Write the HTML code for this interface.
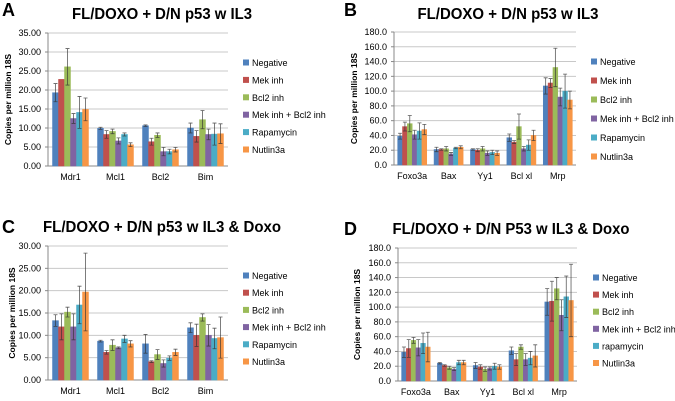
<!DOCTYPE html>
<html><head><meta charset="utf-8"><style>
body{margin:0;background:#fff;width:675px;height:401px;overflow:hidden;font-family:"Liberation Sans",sans-serif}
svg{position:absolute;left:0;top:0}
</style></head><body>
<svg id="fig" width="675" height="401"></svg>
<script>
const seriesNames=["Negative","Mek inh","Bcl2 inh","Mek inh + Bcl2 inh","Rapamycin","Nutlin3a"];
const seriesNamesD=["Negative","Mek inh","Bcl2 inh","Mek inh + Bcl2 inh","rapamycin","Nutlin3a"];
const colors=["#4f81bd","#c0504d","#9bbb59","#8064a2","#4bacc6","#f79646"];
const catsAC=["Mdr1","Mcl1","Bcl2","Bim"];
const catsBD=["Foxo3a","Bax","Yy1","Bcl xl","Mrp"];
const ticksA=[0,5,10,15,20,25,30,35];
const ticksC=[0,5,10,15,20,25,30];
const ticksBD=[0,20,40,60,80,100,120,140,160,180];
const valsA=[[19.3,22.8,26.1,12.5,14.1,14.9],[9.9,8.3,9.1,6.6,8.3,5.6],[10.6,6.4,8.1,3.8,3.8,4.3],[10,7.8,12.2,8.3,8.4,8.5]];
const errA=[[2.4,0,4.8,1.3,4.2,3],[0.3,1,0.6,0.8,0.4,0.5],[0.2,0.9,0.6,1.1,0.6,0.6],[1.3,1.5,2.4,1.4,2.9,2.6]];
const valsB=[[39,52,56,41,46,48],[21,21,22,15,23,24],[21,20,22,16,17,16],[37,31,52,22,27,40],[107,111,132,92,100,88]];
const errB=[[4,6,11,6,11,7],[3,1,3,2,1,2],[1,2,3,3,3,3],[5,2,17,3,7,7],[11,6,26,12,23,12]];
const valsC=[[13.3,11.9,15.2,11.9,16.8,19.7],[8.7,6.2,7.8,7.2,9.2,8.1],[8.1,4.1,5.7,3.7,4.9,6.2],[11.7,10,14,10,9.3,9.5]];
const errC=[[1.3,2.9,1.1,2.9,4.2,8.7],[0.2,0.4,1.2,0.2,0.8,0.7],[2.1,0.2,1.1,0.8,0.5,0.7],[1.1,2.5,0.8,2.4,2.3,4.6]];
const valsD=[[39,44,55,45,51,46],[24,21,18,16,25,25],[21,19,16,17,20,19],[41,29,46,29,31,34],[107,108,125,89,114,109]];
const errD=[[7,12,4,11,14,20],[1,1,2,2,3,3],[4,3,3,2,4,3],[5,8,3,8,9,15],[18,27,15,21,28,49]];

const NS="http://www.w3.org/2000/svg";
const svg=document.getElementById('fig');
function mk(tag,attrs,parent,txt){const e=document.createElementNS(NS,tag);for(const k in attrs)e.setAttribute(k,attrs[k]);if(txt!==undefined)e.textContent=txt;(parent||svg).appendChild(e);return e;}

function panel(p){
  const g=mk('g',{});
  
  
  const ymax=p.ticks[p.ticks.length-1];
  const y=v=>p.y0-(v/ymax)*(p.y0-p.yTop);
  const catW=(p.xR-p.xL)/p.cats.length;
  const bw=catW*0.8/6;
  const lt=mk('text',{x:p.lx,y:p.ly,'font-size':18,'font-weight':'bold',fill:'#000'},g,p.letter);
  
  
  const tt=mk('text',{x:p.tx-p.tw/2,y:p.ty,'font-size':16,'font-weight':'bold',textLength:p.tw,lengthAdjust:'spacingAndGlyphs',fill:'#000'},g,p.title);
  
  
  p.ticks.forEach(t=>{
    const yy=y(t);
    if(t>0){const gl=mk('line',{x1:p.xL,x2:p.xR,y1:yy,y2:yy,stroke:'#c8c8c8','stroke-width':1},g);
      }
    const tl=mk('text',{x:p.xL-7,y:yy+3,'font-size':9,'text-anchor':'end',fill:'#000'},g,t.toFixed(p.dec));
    
    mk('line',{x1:p.xL-3,x2:p.xL,y1:yy,y2:yy,stroke:'#888'},g);
  });
  const ax=mk('line',{x1:p.xL,x2:p.xL,y1:p.yTop,y2:p.y0,stroke:'#888'},g);
  
  const xa=mk('line',{x1:p.xL,x2:p.xR,y1:p.y0,y2:p.y0,stroke:'#888'},g);
  
  const yt=mk('text',{x:0,y:0,'font-size':8.5,'font-weight':'bold','text-anchor':'middle',transform:`translate(${p.yTitleX},${(p.yTop+p.y0)/2}) rotate(-90)`},g,'Copies per million 18S');
  
  p.cats.forEach((c,i)=>{
    const cx=p.xL+catW*i+catW/2;
    const cl=mk('text',{x:cx,y:p.y0+14,'font-size':9,'text-anchor':'middle',fill:'#000'},g,c);
    
    p.vals[i].forEach((v,s)=>{
      const bx=cx-3*bw+s*bw;
      const r=mk('rect',{x:bx,y:y(v),width:bw,height:p.y0-y(v),fill:colors[s],stroke:colors[s],'stroke-width':0.5},g);
      
      const e=p.errs[i][s];
      if(e>0){const mx=bx+bw/2;
        const el=mk('path',{d:`M${mx},${y(v+e)}V${y(v-e)}M${mx-2},${y(v+e)}H${mx+2}M${mx-2},${y(v-e)}H${mx+2}`,stroke:'#333','stroke-width':0.8,fill:'none',opacity:0.8},g);
        }
    });
  });
  p.names.forEach((n,s)=>{
    const ly=p.legY+s*p.legDy;
    const lg=mk('g',{},g);
    
    mk('rect',{x:p.legX,y:ly-3.5,width:6,height:6,fill:colors[s]},lg);
    mk('text',{x:p.legX+9,y:ly+3,'font-size':9,fill:'#000'},lg,n);
  });
}
panel({letter:'A',lx:2,ly:16,title:'FL/DOXO + D/N p53 w IL3',tx:162,tw:180,ty:19,xL:48,xR:228,yTop:33,y0:166,ticks:ticksA,dec:2,cats:catsAC,vals:valsA,errs:errA,names:seriesNames,legX:243,legY:63,legDy:17.4,yTitleX:11});
panel({letter:'B',lx:344,ly:16,title:'FL/DOXO + D/N p53 w IL3',tx:508,tw:181,ty:19,xL:394,xR:576,yTop:32,y0:165,ticks:ticksBD,dec:1,cats:catsBD,vals:valsB,errs:errB,names:seriesNames,legX:591,legY:62,legDy:19,yTitleX:357});
panel({letter:'C',lx:2,ly:233,title:'FL/DOXO + D/N p53 w IL3 & Doxo',tx:162,tw:238,ty:232,xL:48,xR:228,yTop:246,y0:380,ticks:ticksC,dec:2,cats:catsAC,vals:valsC,errs:errC,names:seriesNames,legX:243,legY:276,legDy:17.2,yTitleX:15});
panel({letter:'D',lx:344,ly:235,title:'FL/DOXO + D/N P53 w IL3 & Doxo',tx:511,tw:237,ty:234,xL:398,xR:577,yTop:248,y0:381,ticks:ticksBD,dec:1,cats:catsBD,vals:valsD,errs:errD,names:seriesNamesD,legX:593,legY:278,legDy:17.1,yTitleX:360});
</script>
</body></html>
